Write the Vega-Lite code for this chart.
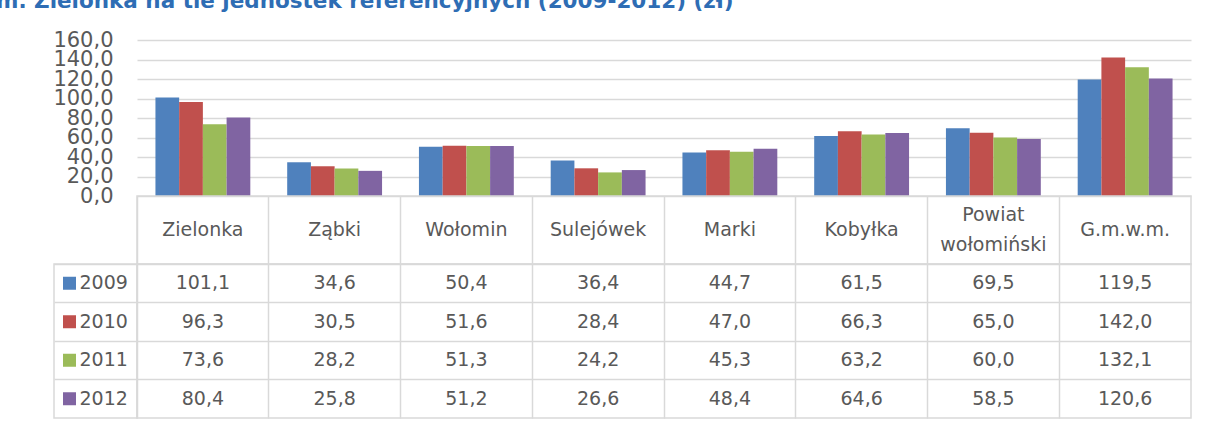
{
  "$schema": "https://vega.github.io/schema/vega-lite/v6.json",
  "padding": {"left": -4, "top": -10, "right": 0, "bottom": 4},
  "title": {"text": "m. Zielonka na tle jednostek referencyjnych (2009-2012) (zł)", "anchor": "start", "frame": "group", "dx": -58, "offset": 17, "fontSize": 21.5, "font": "DejaVu Sans", "fontWeight": "bold", "color": "#2E6DB4"},
  "config": {
    "locale": {"number": {"decimal": ",", "thousands": " ", "grouping": [3], "currency": ["", " zł"]}},
    "view": {"stroke": "#D9D9D9", "strokeWidth": 1.5},
    "font": "DejaVu Sans",
    "text": {"color": "#595959", "fontSize": 19, "font": "DejaVu Sans"}
  },
  "datasets": {
    "d": [
      {"g": "Zielonka", "r": "2009", "v": 101.1},
      {"g": "Ząbki", "r": "2009", "v": 34.6},
      {"g": "Wołomin", "r": "2009", "v": 50.4},
      {"g": "Sulejówek", "r": "2009", "v": 36.4},
      {"g": "Marki", "r": "2009", "v": 44.7},
      {"g": "Kobyłka", "r": "2009", "v": 61.5},
      {"g": "Powiat wołomiński", "r": "2009", "v": 69.5},
      {"g": "G.m.w.m.", "r": "2009", "v": 119.5},
      {"g": "Zielonka", "r": "2010", "v": 96.3},
      {"g": "Ząbki", "r": "2010", "v": 30.5},
      {"g": "Wołomin", "r": "2010", "v": 51.6},
      {"g": "Sulejówek", "r": "2010", "v": 28.4},
      {"g": "Marki", "r": "2010", "v": 47.0},
      {"g": "Kobyłka", "r": "2010", "v": 66.3},
      {"g": "Powiat wołomiński", "r": "2010", "v": 65.0},
      {"g": "G.m.w.m.", "r": "2010", "v": 142.0},
      {"g": "Zielonka", "r": "2011", "v": 73.6},
      {"g": "Ząbki", "r": "2011", "v": 28.2},
      {"g": "Wołomin", "r": "2011", "v": 51.3},
      {"g": "Sulejówek", "r": "2011", "v": 24.2},
      {"g": "Marki", "r": "2011", "v": 45.3},
      {"g": "Kobyłka", "r": "2011", "v": 63.2},
      {"g": "Powiat wołomiński", "r": "2011", "v": 60.0},
      {"g": "G.m.w.m.", "r": "2011", "v": 132.1},
      {"g": "Zielonka", "r": "2012", "v": 80.4},
      {"g": "Ząbki", "r": "2012", "v": 25.8},
      {"g": "Wołomin", "r": "2012", "v": 51.2},
      {"g": "Sulejówek", "r": "2012", "v": 26.6},
      {"g": "Marki", "r": "2012", "v": 48.4},
      {"g": "Kobyłka", "r": "2012", "v": 64.6},
      {"g": "Powiat wołomiński", "r": "2012", "v": 58.5},
      {"g": "G.m.w.m.", "r": "2012", "v": 120.6}
    ]
  },
  "columns": 2,
  "spacing": 0,
  "bounds": "flush",
  "concat": [
    {
      "width": 83, "height": 156,
      "data": {"values": [{}]},
      "view": {"stroke": null},
      "mark": {"type": "text"},
      "encoding": {"text": {"value": ""}}
    },
    {
      "width": 1054, "height": 156,
      "data": {"name": "d"},
      "view": {"stroke": null},
      "mark": {"type": "bar"},
      "encoding": {
        "x": {"field": "g", "type": "nominal", "sort": null, "scale": {"paddingInner": 0.28, "paddingOuter": 0.14}, "axis": null},
        "xOffset": {"field": "r", "type": "nominal", "scale": {"paddingInner": 0, "paddingOuter": 0}},
        "y": {"field": "v", "type": "quantitative", "scale": {"domain": [0, 160], "nice": false},
          "axis": {"values": [0, 20, 40, 60, 80, 100, 120, 140, 160], "format": ".1f", "title": null, "domain": false, "ticks": false, "labelOverlap": false, "labelPadding": 24, "labelFontSize": 21, "labelColor": "#595959", "labelFont": "DejaVu Sans", "gridColor": "#D9D9D9", "gridWidth": 1.5}},
        "color": {"field": "r", "type": "nominal", "scale": {"domain": ["2009", "2010", "2011", "2012"], "range": ["#4F81BD", "#C0504D", "#9BBB59", "#8064A2"]}, "legend": null}
      }
    },
    {
      "width": 83, "height": 68,
      "data": {"values": [{}]},
      "view": {"stroke": null},
      "mark": {"type": "text"},
      "encoding": {"text": {"value": ""}}
    },
    {
      "width": 1054, "height": 68,
      "data": {"name": "d"},
      "transform": [{"filter": "datum.r === '2009'"}],
      "encoding": {
        "x": {"field": "g", "type": "nominal", "sort": null,
          "scale": {"type": "band", "padding": 0, "domain": ["Zielonka", "Ząbki", "Wołomin", "Sulejówek", "Marki", "Kobyłka", "Powiat wołomiński", "G.m.w.m."]},
          "axis": {"title": null, "labels": false, "ticks": false, "domain": false, "grid": true, "bandPosition": 0, "gridColor": "#D9D9D9", "gridWidth": 1.5}},
        "text": {"field": "g", "type": "nominal"}
      },
      "layer": [
        {
          "transform": [{"filter": "indexof(datum.g, ' ') < 0"}],
          "mark": {"type": "text", "fontSize": 19}
        },
        {
          "transform": [{"filter": "indexof(datum.g, ' ') >= 0"}],
          "mark": {"type": "text", "lineBreak": " ", "lineHeight": 30, "dy": -15, "fontSize": 19}
        }
      ]
    },
    {
      "width": 83, "height": 154,
      "data": {"name": "d"},
      "transform": [{"filter": "datum.g === 'Zielonka'"}],
      "encoding": {
        "y": {"field": "r", "type": "nominal", "sort": null, "scale": {"type": "band", "padding": 0},
          "axis": {"title": null, "labels": false, "ticks": false, "domain": false, "grid": true, "bandPosition": 0, "gridColor": "#D9D9D9", "gridWidth": 1.5}}
      },
      "layer": [
        {
          "mark": {"type": "point", "shape": "square", "size": 169, "filled": true, "opacity": 1, "xOffset": -26},
          "encoding": {"color": {"field": "r", "type": "nominal", "legend": null}}
        },
        {
          "mark": {"type": "text", "align": "left", "dx": -16, "fontSize": 19},
          "encoding": {"text": {"field": "r", "type": "nominal"}}
        }
      ]
    },
    {
      "width": 1054, "height": 154,
      "data": {"name": "d"},
      "mark": {"type": "text", "fontSize": 19},
      "encoding": {
        "x": {"field": "g", "type": "nominal", "sort": null, "scale": {"type": "band", "padding": 0},
          "axis": {"title": null, "labels": false, "ticks": false, "domain": false, "grid": true, "bandPosition": 0, "gridColor": "#D9D9D9", "gridWidth": 1.5}},
        "y": {"field": "r", "type": "nominal", "sort": null, "scale": {"type": "band", "padding": 0},
          "axis": {"title": null, "labels": false, "ticks": false, "domain": false, "grid": true, "bandPosition": 0, "gridColor": "#D9D9D9", "gridWidth": 1.5}},
        "text": {"field": "v", "type": "quantitative", "format": ".1f"}
      }
    }
  ]
}
